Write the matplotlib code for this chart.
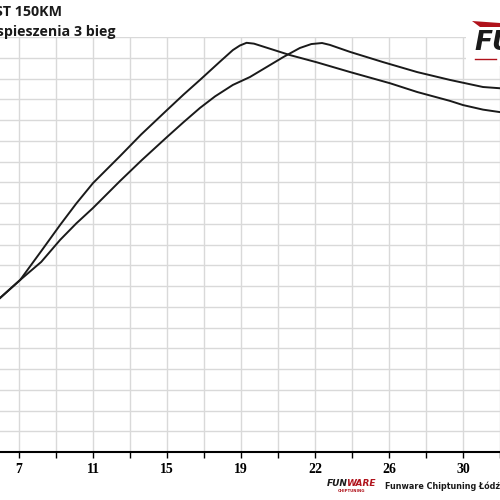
import matplotlib
matplotlib.use("Agg")
import matplotlib.pyplot as plt
from matplotlib.patches import Rectangle, Polygon
from matplotlib.lines import Line2D

# ---- data ----
tick_labels = ["7", "11", "15", "19", "22", "26", "30"]
tick_label_pos = [0, 2, 4, 6, 8, 10, 12]

curve_a_x = [-0.514, 0.03, 0.62, 1.11, 1.55, 2.0, 2.73, 3.3, 4.0, 4.45, 4.89, 5.43, 5.78, 5.97, 6.15, 6.35,
             7.32, 8.05, 8.95, 10.03, 10.76, 11.65, 12.0, 12.54, 13.0]
curve_a_y = [74.2, 82.9, 97.3, 109.4, 119.8, 129.6, 142.6, 153.0, 164.8, 172.3, 179.3, 188.1, 193.7, 195.9, 197.2, 196.8,
             191.3, 187.8, 183.1, 177.7, 173.5, 169.2, 167.2, 165.0, 163.8]

curve_b_x = [-0.514, 0.03, 0.6, 1.11, 1.55, 2.0, 2.73, 3.32, 4.0, 4.45, 4.89, 5.3, 5.78, 6.24, 6.7, 7.14, 7.59, 7.9,
             8.19, 8.4, 8.95, 9.84, 10.76, 11.65, 12.54, 13.0]
curve_b_y = [74.2, 82.9, 91.6, 102.2, 110.2, 117.6, 130.6, 140.7, 151.8, 159.0, 165.8, 171.4, 176.9, 180.7, 185.6, 190.3, 194.7, 196.6,
             197.1, 196.2, 192.8, 187.9, 183.1, 179.3, 175.9, 175.3]

W = H = 500
fig = plt.figure(figsize=(5, 5), dpi=100)
fig.patch.set_facecolor("white")

def fx(px):
    return px / W

def fy(py):
    return 1 - py / H

ax = fig.add_axes([0, fy(452), 1, (452 - 37) / H])
ax.set_xlim(-0.514, 13.0)
ax.set_ylim(0, 200)

ax.plot(curve_a_x, curve_a_y, color="#1a1a1a", lw=1.4, solid_joinstyle="round", zorder=3)
ax.plot(curve_b_x, curve_b_y, color="#1a1a1a", lw=1.4, solid_joinstyle="round", zorder=3)

ax.set_xticks(list(range(0, 14)))
labels = []
for i in range(0, 14):
    if i in tick_label_pos:
        labels.append(tick_labels[tick_label_pos.index(i)])
    else:
        labels.append("")
ax.set_xticklabels(labels, fontfamily="Liberation Serif", fontweight="bold", fontsize=10)
ax.tick_params(axis="x", direction="out", length=4, width=1, color="black", pad=4)
ax.set_yticks(list(range(0, 201, 10)))
ax.tick_params(axis="y", left=False, labelleft=False)
ax.grid(True, color="#d9d9d9", lw=1.0, zorder=0)
ax.set_axisbelow(True)
for s in ["left", "right", "top"]:
    ax.spines[s].set_visible(False)
ax.spines["bottom"].set_color("black")
ax.spines["bottom"].set_linewidth(1.5)

# titles (cropped)
fig.text(fx(62), fy(12), "ST 150KM", ha="right", va="center",
         fontfamily="Open Sans", fontweight="bold", fontsize=10.3, color="#1a1a1a")
fig.text(fx(115), fy(32), "Wykres przyspieszenia 3 bieg", ha="right", va="center",
         fontfamily="Open Sans", fontweight="bold", fontsize=10.3, color="#1a1a1a")

# top-right logo
fig.patches.append(Rectangle((fx(466), fy(66)), fx(34), 66 / H, transform=fig.transFigure,
                             facecolor="white", edgecolor="none", zorder=5))
fig.patches.append(Polygon([(fx(472), fy(21)), (fx(500), fy(23)), (fx(500), fy(27)), (fx(480), fy(27))],
                           closed=True, transform=fig.transFigure, facecolor="#b0121b",
                           edgecolor="none", zorder=6))
fig.text(fx(474), fy(43), "FU", ha="left", va="center", fontfamily="DejaVu Sans",
         fontweight="bold", fontstyle="italic", fontsize=19, color="#1a1a1a", zorder=7)
fig.lines.append(Line2D([fx(475), fx(496)], [fy(59), fy(59)], transform=fig.transFigure,
                        color="#b0121b", lw=1.0, zorder=7))

# bottom logo + text
fig.text(fx(327), fy(484), "FUN", ha="left", va="center", fontfamily="DejaVu Sans",
         fontweight="bold", fontstyle="italic", fontsize=6.5, color="#1a1a1a")
fig.text(fx(346), fy(484), "WARE", ha="left", va="center", fontfamily="DejaVu Sans",
         fontweight="bold", fontstyle="italic", fontsize=6.5, color="#b0121b")
fig.text(fx(352), fy(491.5), "CHIPTUNING", ha="center", va="center", fontfamily="DejaVu Sans",
         fontweight="bold", fontsize=2.8, color="#b0121b")
fig.text(fx(385), fy(486), "Funware Chiptuning Łódź", ha="left", va="center",
         fontfamily="DejaVu Sans", fontweight="bold", fontsize=5.8, color="#1a1a1a")

fig.savefig("out.png", dpi=100, facecolor="white")
